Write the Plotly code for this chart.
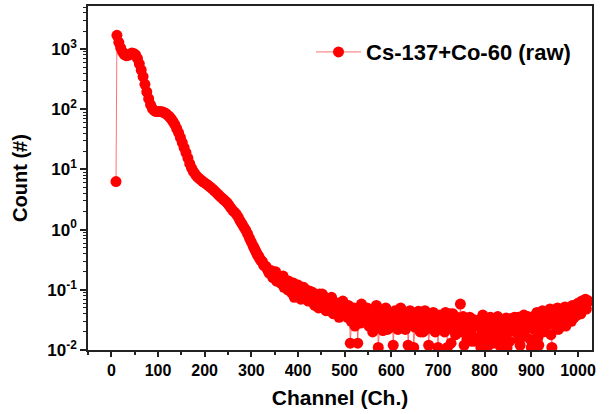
import plotly.graph_objects as go

# ---- data ----
first_channel = [10]
first_count = [6.3]

# channels 12..300 step 4
head_counts = [
    1700, 1300, 1050, 900, 810, 780, 790, 830, 860, 850,
    800, 700, 570, 450, 350, 260, 195, 150, 120, 103,
    95, 92, 92, 92, 91, 89, 86, 81, 76, 70,
    63, 56, 48, 41, 34, 28, 23, 19, 15.5, 12.5,
    10.5, 9.2, 8.3, 7.6, 7.1, 6.7, 6.3, 6.0, 5.7, 5.4,
    5.1, 4.8, 4.5, 4.2, 3.9, 3.65, 3.4, 3.2, 3.0, 2.8,
    2.55, 2.3, 2.1, 1.95, 1.8, 1.6, 1.4, 1.25, 1.1, 0.98,
    0.85, 0.72, 0.62,
]

# channels 304..1020 step 4
tail_counts_a = [
    0.53, 0.46, 0.40, 0.36, 0.31, 0.29, 0.25, 0.24, 0.21, 0.20,
    0.19, 0.17, 0.20, 0.15, 0.16, 0.14, 0.17, 0.13, 0.12, 0.14,
    0.11, 0.12, 0.075, 0.10, 0.12, 0.09, 0.085, 0.11, 0.07, 0.095,
    0.08, 0.065, 0.09, 0.055, 0.075, 0.05, 0.07, 0.085, 0.06, 0.045,
    0.065, 0.05, 0.075, 0.04, 0.055, 0.06, 0.035, 0.05, 0.065, 0.04,
    0.045, 0.055, 0.013, 0.04, 0.05, 0.035, 0.013, 0.045, 0.058, 0.03,
    0.04, 0.05, 0.025, 0.045, 0.02, 0.038, 0.055, 0.011, 0.035, 0.042,
    0.03, 0.05, 0.022, 0.04, 0.035, 0.012, 0.045, 0.028, 0.038, 0.05,
    0.025, 0.04, 0.032, 0.012, 0.045, 0.03, 0.011, 0.038, 0.025, 0.042,
    0.035, 0.02, 0.045, 0.03, 0.012, 0.04, 0.028, 0.035, 0.022, 0.011,
    0.038, 0.025, 0.03, 0.042, 0.011, 0.033, 0.013, 0.04, 0.028, 0.035,
    0.022, 0.058, 0.03, 0.012, 0.033, 0.026, 0.035, 0.014, 0.032, 0.03,
    0.025, 0.03, 0.011, 0.038, 0.022, 0.028, 0.012, 0.035, 0.02, 0.03,
    0.024, 0.036, 0.012, 0.03, 0.026, 0.032, 0.011, 0.028, 0.033, 0.021,
    0.035, 0.026, 0.035, 0.012, 0.03, 0.038, 0.022, 0.036, 0.028, 0.011,
    0.036, 0.028, 0.042, 0.012, 0.033, 0.045, 0.025, 0.038, 0.03, 0.048,
    0.011, 0.04, 0.032, 0.05, 0.028, 0.044, 0.036, 0.052, 0.03, 0.046,
    0.04, 0.055, 0.035, 0.05, 0.06, 0.045, 0.065, 0.055, 0.07, 0.062,
]

# channels 306..1022 step 4
tail_counts_b = [
    0.50, 0.43, 0.37, 0.33, 0.30, 0.26, 0.25, 0.22, 0.19, 0.21,
    0.16, 0.19, 0.14, 0.17, 0.13, 0.15, 0.11, 0.14, 0.10, 0.12,
    0.09, 0.13, 0.10, 0.08, 0.105, 0.07, 0.095, 0.08, 0.10, 0.065,
    0.095, 0.07, 0.06, 0.08, 0.065, 0.085, 0.055, 0.065, 0.075, 0.05,
    0.045, 0.07, 0.055, 0.06, 0.045, 0.05, 0.06, 0.04, 0.045, 0.055,
    0.035, 0.048, 0.03, 0.042, 0.025, 0.045, 0.038, 0.028, 0.042, 0.036,
    0.03, 0.042, 0.035, 0.024, 0.044, 0.03, 0.04, 0.026, 0.045, 0.021,
    0.04, 0.028, 0.035, 0.024, 0.042, 0.03, 0.036, 0.022, 0.044, 0.032,
    0.036, 0.022, 0.04, 0.03, 0.026, 0.038, 0.024, 0.034, 0.044, 0.02,
    0.028, 0.04, 0.022, 0.036, 0.03, 0.025, 0.042, 0.02, 0.034, 0.03,
    0.024, 0.036, 0.02, 0.032, 0.027, 0.04, 0.022, 0.03, 0.018, 0.034,
    0.03, 0.02, 0.036, 0.024, 0.015, 0.032, 0.02, 0.028, 0.014, 0.025,
    0.016, 0.032, 0.02, 0.013, 0.028, 0.016, 0.03, 0.02, 0.013, 0.026,
    0.018, 0.014, 0.03, 0.02, 0.016, 0.034, 0.02, 0.014, 0.026, 0.03,
    0.02, 0.03, 0.015, 0.034, 0.022, 0.017, 0.032, 0.024, 0.015, 0.03,
    0.022, 0.034, 0.016, 0.03, 0.038, 0.02, 0.032, 0.026, 0.04, 0.018,
    0.034, 0.026, 0.042, 0.022, 0.036, 0.03, 0.045, 0.025, 0.04, 0.034,
    0.03, 0.045, 0.05, 0.038, 0.055, 0.04, 0.05, 0.06, 0.048, 0.065,
]

channels_a = first_channel + list(range(12, 1021, 4))
counts_a = first_count + head_counts + tail_counts_a
channels_b = list(range(306, 1023, 4))
assert len(channels_a) == len(counts_a), (len(channels_a), len(counts_a))
assert len(channels_b) == len(tail_counts_b), (len(channels_b), len(tail_counts_b))

# merge into one channel-ordered spectrum
pairs = sorted(zip(channels_a + channels_b, counts_a + tail_counts_b))
channels = [p[0] for p in pairs]
counts = [p[1] for p in pairs]

series_name = "Cs-137+Co-60 (raw)"
x_ticks = [0, 100, 200, 300, 400, 500, 600, 700, 800, 900, 1000]
y_tick_vals = [0.01, 0.1, 1, 10, 100, 1000]
y_tick_text = ["10<sup>-2</sup>", "10<sup>-1</sup>", "10<sup>0</sup>",
               "10<sup>1</sup>", "10<sup>2</sup>", "10<sup>3</sup>"]
y_minor = [m * 10 ** e for e in range(-2, 4) for m in range(2, 10)]

FONT = "Liberation Sans, Arial, sans-serif"
AX = "#222222"

fig = go.Figure()
fig.add_trace(go.Scatter(
    x=channels, y=counts, mode="lines+markers", name=series_name,
    line=dict(color="rgba(255,90,90,0.85)", width=1),
    marker=dict(color="#ff0000", size=11, line=dict(width=0)),
))

fig.update_layout(
    width=612, height=414,
    margin=dict(l=88, r=20, t=6, b=64),
    paper_bgcolor="white", plot_bgcolor="white",
    showlegend=True,
    legend=dict(x=0.4425, xanchor="left", y=0.866, yanchor="middle",
                bgcolor="rgba(0,0,0,0)", itemwidth=45,
                font=dict(family=FONT, size=22, color="black", weight="bold")),
    font=dict(family=FONT, color="black"),
)
fig.update_xaxes(
    range=[-50, 1030], tickmode="array", tickvals=x_ticks, automargin=False,
    showline=True, linecolor=AX, linewidth=1.5, mirror=True,
    ticks="outside", ticklen=5, tickwidth=1.5, tickcolor=AX,
    minor=dict(dtick=50, tick0=0, ticks="outside", ticklen=3, tickwidth=1.5, tickcolor=AX),
    showgrid=False, zeroline=False,
    tickfont=dict(family=FONT, size=16, color="black", weight="bold"),
    title=dict(text="Channel (Ch.)", font=dict(family=FONT, size=21, color="black", weight="bold"),
               standoff=12),
)
fig.update_yaxes(
    type="log", range=[-2, 3.717], tickmode="array", automargin=False,
    tickvals=y_tick_vals, ticktext=y_tick_text,
    showline=True, linecolor=AX, linewidth=1.5, mirror=True,
    ticks="outside", ticklen=6, tickwidth=1.5, tickcolor=AX,
    minor=dict(tickvals=y_minor, ticks="outside", ticklen=3, tickwidth=1, tickcolor=AX),
    showgrid=False, zeroline=False,
    tickfont=dict(family=FONT, size=17, color="black", weight="bold"),
    title=dict(text="Count (#)", font=dict(family=FONT, size=20, color="black", weight="bold"),
               standoff=14),
)

fig.write_html("out.html", config={"displayModeBar": False},
               post_script="document.body.style.margin='0';document.body.style.overflow='hidden';")
